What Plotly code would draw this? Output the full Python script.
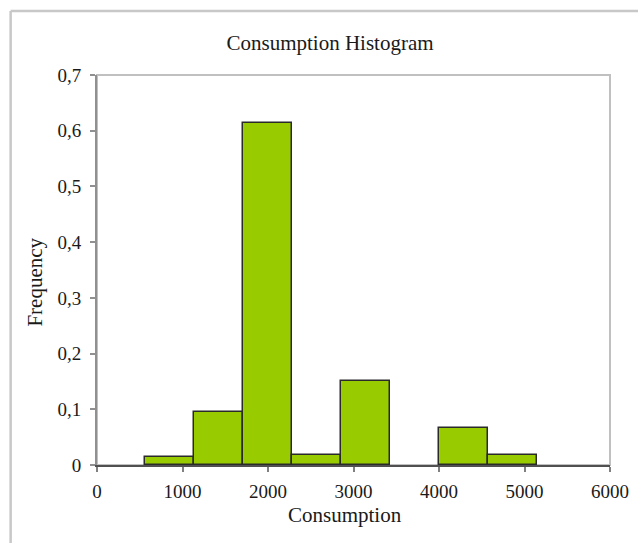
import plotly.graph_objects as go

# Data
bin_edges = [566, 1139, 1712, 2285, 2858, 3431, 4004, 4577, 5150]
frequency = [0.015, 0.095, 0.613, 0.018, 0.151, 0.0, 0.066, 0.018]
x_ticks = [0, 1000, 2000, 3000, 4000, 5000, 6000]
y_ticks = [0, 0.1, 0.2, 0.3, 0.4, 0.5, 0.6, 0.7]

centers = [(a + b) / 2 for a, b in zip(bin_edges[:-1], bin_edges[1:])]
widths = [b - a for a, b in zip(bin_edges[:-1], bin_edges[1:])]
outline = [1.5 if f > 0 else 0 for f in frequency]

W, H = 638, 543
L, R, T, B = 96.5, 27.7, 75, 78
pw, ph = W - L - R, H - T - B

def px(xp):
    return (xp - L) / pw

def py(yp):
    return (H - B - yp) / ph

FONT = "Liberation Serif"
TXT = "#1a1a1a"

fig = go.Figure()
fig.add_trace(go.Bar(
    x=centers, y=frequency, width=widths,
    marker=dict(color="#99cc00", line=dict(color="#2a2a2a", width=outline)),
    showlegend=False,
))

shapes = [
    dict(type="rect", xref="paper", yref="paper", x0=0, y0=0, x1=1, y1=1,
         line=dict(color="#c0c0c0", width=2), layer="below"),
    dict(type="line", xref="paper", yref="paper", x0=px(10), y0=py(570), x1=px(10), y1=py(11),
         line=dict(color="#c8c8c8", width=2.5)),
    dict(type="line", xref="paper", yref="paper", x0=px(10), y0=py(11), x1=px(660), y1=py(11),
         line=dict(color="#c8c8c8", width=2.5)),
]

fig.update_layout(
    width=W, height=H,
    margin=dict(l=L, r=R, t=T, b=B, pad=0, autoexpand=False),
    paper_bgcolor="white", plot_bgcolor="white",
    separators=", ",
    font=dict(family=FONT, size=19, color=TXT),
    bargap=0,
    shapes=shapes,
    title=dict(text="Consumption Histogram", xref="container", yref="container",
               x=330 / W, y=1 - 43 / H, xanchor="center", yanchor="middle",
               font=dict(family=FONT, size=21, color=TXT)),
    annotations=[
        dict(text="Frequency", xref="paper", yref="paper", x=px(34), y=py(282),
             textangle=-90, showarrow=False, xanchor="center", yanchor="middle",
             font=dict(family=FONT, size=21, color=TXT)),
        dict(text="Consumption", xref="paper", yref="paper", x=px(345), y=py(515),
             showarrow=False, xanchor="center", yanchor="middle",
             font=dict(family=FONT, size=21, color=TXT)),
    ],
)

fig.update_xaxes(
    range=[0, 6000], tickvals=x_ticks, showgrid=False, zeroline=False,
    showline=True, linecolor="#505050", linewidth=2, automargin=False,
    ticks="outside", ticklen=5, tickcolor="#808080", tickwidth=1.5,
    ticklabelstandoff=3,
)
fig.update_yaxes(
    range=[0, 0.7], tickvals=y_ticks, showgrid=False, zeroline=False,
    showline=True, linecolor="#909090", linewidth=2, automargin=False,
    ticks="outside", ticklen=5, tickcolor="#909090", tickwidth=1.5,
    ticklabelstandoff=5,
)

fig.write_html("out.html")
